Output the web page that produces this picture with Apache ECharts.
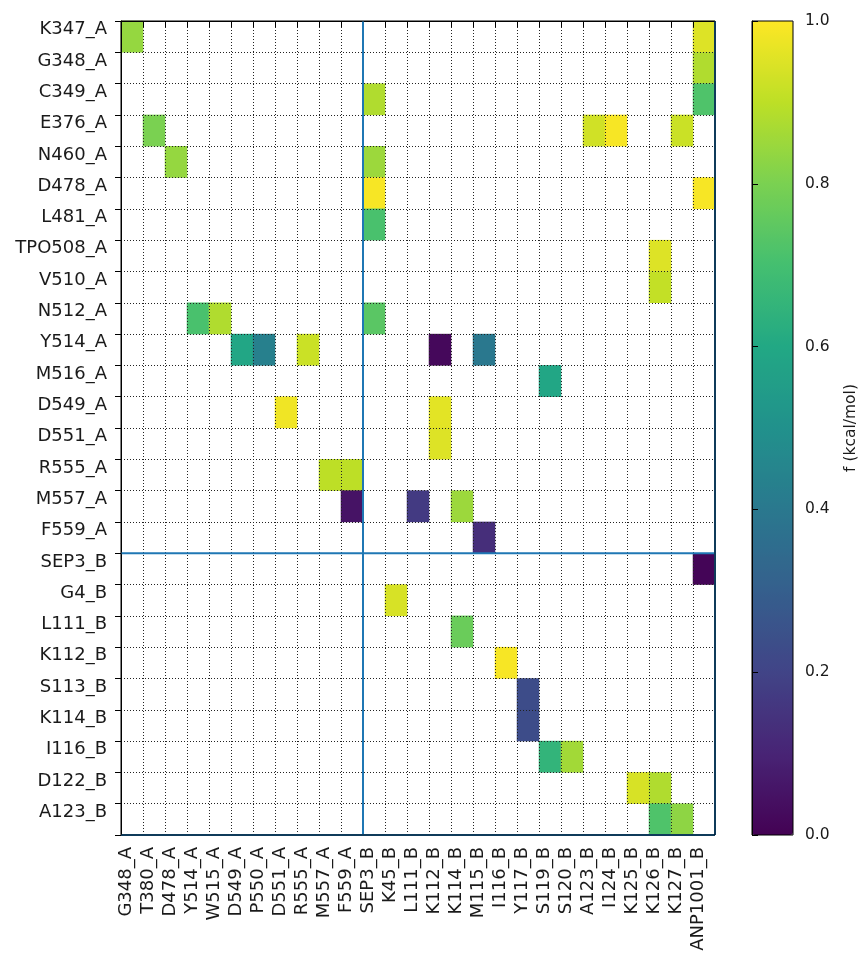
<!DOCTYPE html>
<html>
<head>
<meta charset="utf-8">
<script src="https://cdn.jsdelivr.net/npm/echarts@6/dist/echarts.min.js"></script>
<style>
html,body{margin:0;padding:0;background:#fff;}
#chart{width:862px;height:954px;}
</style>
</head>
<body>
<div id="chart"></div>
<script>
// Row (y) labels, top to bottom
const yLabels = ['K347_A','G348_A','C349_A','E376_A','N460_A','D478_A','L481_A','TPO508_A','V510_A','N512_A',
  'Y514_A','M516_A','D549_A','D551_A','R555_A','M557_A','F559_A','SEP3_B','G4_B','L111_B','K112_B','S113_B',
  'K114_B','I116_B','D122_B','A123_B'];
// Column (x) labels, left to right
const xLabels = ['G348_A','T380_A','D478_A','Y514_A','W515_A','D549_A','P550_A','D551_A','R555_A','M557_A',
  'F559_A','SEP3_B','K45_B','L111_B','K112_B','K114_B','M115_B','I116_B','Y117_B','S119_B','S120_B','A123_B',
  'I124_B','K125_B','K126_B','K127_B','ANP1001_B'];
// Non-empty cells: [row label, column label, f (kcal/mol)]
const interactions = [
  ['K347_A','G348_A',0.84], ['K347_A','ANP1001_B',0.95],
  ['G348_A','ANP1001_B',0.88],
  ['C349_A','SEP3_B',0.88], ['C349_A','ANP1001_B',0.72],
  ['E376_A','T380_A',0.80], ['E376_A','A123_B',0.93], ['E376_A','I124_B',0.99], ['E376_A','K127_B',0.92],
  ['N460_A','D478_A',0.84], ['N460_A','SEP3_B',0.85],
  ['D478_A','SEP3_B',0.99], ['D478_A','ANP1001_B',0.99],
  ['L481_A','SEP3_B',0.71],
  ['TPO508_A','K126_B',0.95],
  ['V510_A','K126_B',0.91],
  ['N512_A','Y514_A',0.71], ['N512_A','W515_A',0.88], ['N512_A','SEP3_B',0.74],
  ['Y514_A','D549_A',0.59], ['Y514_A','P550_A',0.43], ['Y514_A','R555_A',0.92], ['Y514_A','K112_B',0.02], ['Y514_A','M115_B',0.40],
  ['M516_A','S119_B',0.59],
  ['D549_A','D551_A',0.98], ['D549_A','K112_B',0.96],
  ['D551_A','K112_B',0.95],
  ['R555_A','M557_A',0.90], ['R555_A','F559_A',0.90],
  ['M557_A','F559_A',0.05], ['M557_A','L111_B',0.17], ['M557_A','K114_B',0.85],
  ['F559_A','M115_B',0.13],
  ['SEP3_B','ANP1001_B',0.01],
  ['G4_B','K45_B',0.94],
  ['L111_B','K114_B',0.77],
  ['K112_B','I116_B',0.99],
  ['S113_B','Y117_B',0.23],
  ['K114_B','Y117_B',0.23],
  ['I116_B','S119_B',0.65], ['I116_B','S120_B',0.86],
  ['D122_B','K125_B',0.94], ['D122_B','K126_B',0.88],
  ['A123_B','K126_B',0.72], ['A123_B','K127_B',0.83]
];
// Colour bar ticks
const cbMin = 0, cbMax = 1, cbStep = 0.2;
const cbTitle = 'f (kcal/mol)';

const viridis = ['#440154','#482475','#414487','#355f8d','#2a788e','#21918c','#22a884','#44bf70','#7ad151','#bddf26','#fde725'];

const heatData = interactions.map(([r, c, v]) => [xLabels.indexOf(c), yLabels.indexOf(r), v]);
const nCols = xLabels.length, nRows = yLabels.length;
const sepX = xLabels.findIndex(s => s.endsWith('_B'));
const sepY = yLabels.findIndex(s => s.endsWith('_B'));

const FONT = 'DejaVu Sans';
const blue = '#1f77b4';
function sepLine(data) {
  return {type:'line', xAxisIndex:1, yAxisIndex:1, data:data, symbol:'none', silent:true, z:6,
    lineStyle:{color:blue, width:2}, clip:true};
}

const chart = echarts.init(document.getElementById('chart'), null, {renderer:'canvas'});
chart.setOption({
  animation:false,
  backgroundColor:'#ffffff',
  textStyle:{fontFamily:FONT},
  grid:[
    {left:121, top:21, width:594, height:814, show:true, borderColor:'#000', borderWidth:1, backgroundColor:'transparent', z:10},
    {left:752, top:21, width:41, height:814, show:true, borderColor:'#000', borderWidth:1, backgroundColor:'transparent', z:10}
  ],
  xAxis:[
    {type:'category', gridIndex:0, data:xLabels, position:'bottom', z:5,
      axisLine:{show:true, lineStyle:{color:'#000', width:1}},
      axisTick:{show:true, interval:0, length:6, lineStyle:{color:'#000'}},
      axisLabel:{interval:0, rotate:90, margin:12, fontSize:18, color:'#1a1a1a', fontFamily:FONT, verticalAlign:'bottom', lineHeight:12},
      splitLine:{show:true, interval:0, lineStyle:{type:[1,2], color:'#222', width:1}}},
    {type:'value', gridIndex:0, min:0, max:nCols, show:false},
    {type:'value', gridIndex:1, min:0, max:1, show:false}
  ],
  yAxis:[
    {type:'category', gridIndex:0, data:yLabels, inverse:true, z:5,
      axisLine:{show:true, lineStyle:{color:'#000', width:1}},
      axisTick:{show:true, interval:0, length:6, lineStyle:{color:'#000'}},
      axisLabel:{interval:0, margin:14, fontSize:18, color:'#1a1a1a', fontFamily:FONT, verticalAlign:'bottom', lineHeight:14},
      splitLine:{show:true, interval:0, lineStyle:{type:[1,2], color:'#222', width:1}}},
    {type:'value', gridIndex:0, min:0, max:nRows, inverse:true, show:false},
    {type:'value', gridIndex:1, min:cbMin, max:cbMax, interval:cbStep, position:'right', z:10,
      axisLine:{show:true, lineStyle:{color:'#000', width:1}},
      axisTick:{show:true, length:6, lineStyle:{color:'#000'}},
      axisLabel:{formatter:v => v.toFixed(1), fontSize:15.5, margin:12, color:'#1a1a1a', fontFamily:FONT},
      splitLine:{show:false},
      name:cbTitle, nameLocation:'middle', nameRotate:90, nameGap:50,
      nameTextStyle:{fontSize:15.5, color:'#1a1a1a', fontFamily:FONT}}
  ],
  visualMap:{type:'continuous', min:cbMin, max:cbMax, seriesIndex:0, orient:'vertical',
    left:752, top:21, itemWidth:41, itemHeight:814, padding:0, calculable:false, text:null,
    inRange:{color:viridis}, z:4},
  series:[
    {type:'heatmap', xAxisIndex:0, yAxisIndex:0, data:heatData, z:2, silent:true,
      itemStyle:{borderWidth:0}, emphasis:{disabled:true}},
    sepLine([[sepX,0],[sepX,nRows]]),
    sepLine([[0,sepY],[nCols,sepY]]),
    sepLine([[nCols,0],[nCols,nRows]]),
    sepLine([[0,nRows],[nCols,nRows]])
  ]
});
</script>
</body>
</html>
